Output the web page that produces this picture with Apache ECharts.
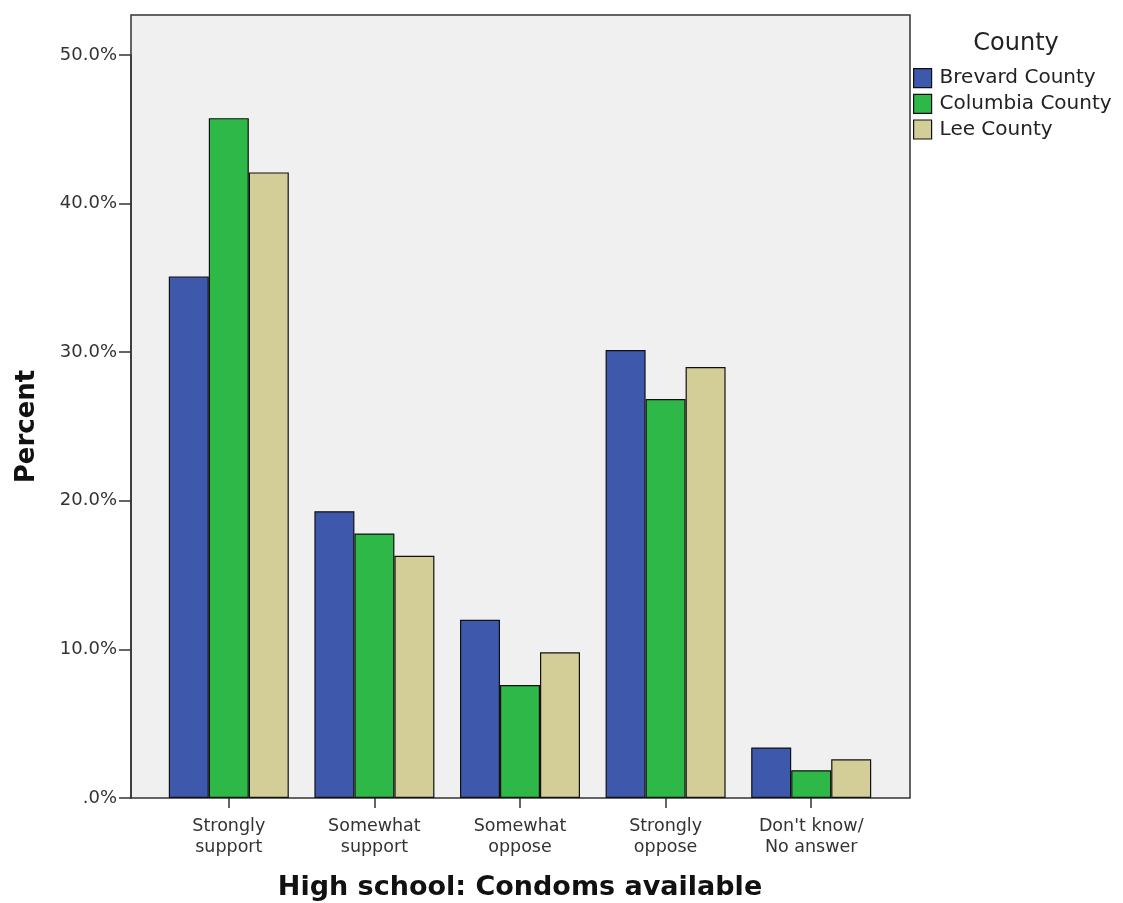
<!DOCTYPE html>
<html>
<head>
<meta charset="utf-8">
<script src="https://cdn.jsdelivr.net/npm/echarts@6/dist/echarts.min.js"></script>
<style>html,body{margin:0;padding:0;background:#fff}#c{width:1123px;height:903px}</style>
</head>
<body>
<div id="c"></div>
<script>
const categories = ['Strongly\nsupport', 'Somewhat\nsupport', 'Somewhat\noppose', 'Strongly\noppose', "Don't know/\nNo answer"];
const brevard = [35.1, 19.3, 12.0, 30.15, 3.4];
const columbia = [45.75, 17.8, 7.6, 26.85, 1.87];
const lee = [42.1, 16.3, 9.8, 29.0, 2.6];
const seriesNames = ['Brevard County', 'Columbia County', 'Lee County'];
const colors = ['#3e58ac', '#2eb848', '#d3ce97'];

const FONT = 'DejaVu Sans';
const chart = echarts.init(document.getElementById('c'), null, {renderer: 'canvas'});
const dataSets = [brevard, columbia, lee];
chart.setOption({
  animation: false,
  textStyle: {fontFamily: FONT},
  legend: {
    orient: 'vertical', left: 913, top: 68, padding: 0,
    itemWidth: 18, itemHeight: 19, itemGap: 5.5,
    icon: 'rect',
    itemStyle: {borderColor: '#111', borderWidth: 1.2},
    textStyle: {fontSize: 20, lineHeight: 19, color: '#222', fontFamily: FONT, padding: [0, 0, 0, 3]},
    data: seriesNames
  },
  title: {
    text: 'County', left: 1016, top: 32, textAlign: 'center', padding: 0,
    textStyle: {fontSize: 24, fontWeight: 'normal', color: '#222', fontFamily: FONT}
  },
  grid: [
    {left: 131, right: 213, top: 15, bottom: 105, show: true, backgroundColor: '#f0f0f0', borderColor: '#333', borderWidth: 1.5, containLabel: false, outerBoundsMode: 'none'},
    {left: 156, right: 239, top: 55, bottom: 105, containLabel: false, outerBoundsMode: 'none'}
  ],
  xAxis: [
    {gridIndex: 0, type: 'value', show: false, min: 0, max: 1},
    {
      gridIndex: 1, type: 'category', data: categories,
      axisLine: {show: false},
      axisTick: {show: true, alignWithLabel: true, length: 10, lineStyle: {color: '#333', width: 1.5}},
      axisLabel: {fontSize: 17.5, color: '#333', lineHeight: 21, margin: 18, fontFamily: FONT},
      name: 'High school: Condoms available', nameLocation: 'middle', nameGap: 76,
      nameTextStyle: {fontSize: 27, fontWeight: 'bold', color: '#111', fontFamily: FONT}
    }
  ],
  yAxis: [
    {gridIndex: 0, type: 'value', show: false, min: 0, max: 1},
    {
      gridIndex: 1, type: 'value', min: 0, max: 50, interval: 10, offset: 25,
      axisLine: {show: true, lineStyle: {color: '#333', width: 1.5}},
      axisTick: {show: true, length: 12, lineStyle: {color: '#333', width: 1.5}},
      splitLine: {show: false},
      axisLabel: {
        fontSize: 18, color: '#333', margin: 14, fontFamily: FONT,
        formatter: v => (v === 0 ? '.0%' : v.toFixed(1) + '%')
      },
      name: 'Percent', nameLocation: 'middle', nameGap: 91, nameRotate: 90,
      nameTextStyle: {fontSize: 26, fontWeight: 'bold', color: '#111', fontFamily: FONT}
    }
  ],
  series: seriesNames.map((n, i) => ({
    name: n, type: 'bar', xAxisIndex: 1, yAxisIndex: 1,
    data: dataSets[i], barWidth: 40, barGap: '0%',
    itemStyle: {color: colors[i], borderColor: '#111', borderWidth: 1.2}
  }))
});
</script>
</body>
</html>
